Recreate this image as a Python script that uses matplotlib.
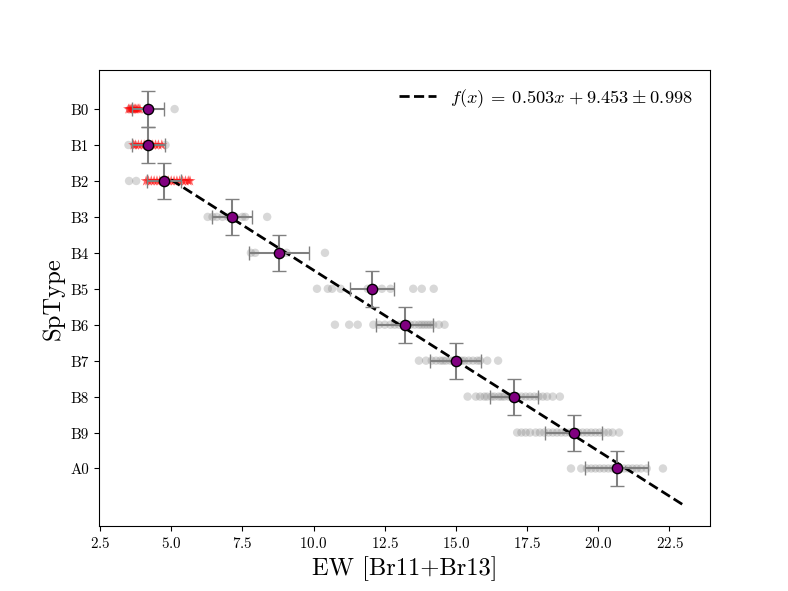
import numpy as np
import matplotlib
matplotlib.use("Agg")
import matplotlib.pyplot as plt

plt.rcParams['font.family'] = 'serif'
plt.rcParams['font.serif'] = ['cmr10', 'DejaVu Serif']
plt.rcParams['mathtext.fontset'] = 'cm'
plt.rcParams['axes.unicode_minus'] = False
plt.rcParams['axes.formatter.use_mathtext'] = True

# spectral types (numeric code 10 = B0 ... 20 = A0)
sptypes = ['B0', 'B1', 'B2', 'B3', 'B4', 'B5', 'B6', 'B7', 'B8', 'B9', 'A0']
sp_codes = [10, 11, 12, 13, 14, 15, 16, 17, 18, 19, 20]

# individual measurements (grey)
ew_grey = {
    'B0': [3.55, 3.7, 5.12],
    'B1': [3.5, 3.7, 4.8],
    'B2': [3.52, 3.77],
    'B3': [6.28, 6.45, 6.6, 6.8, 7.0, 7.25, 7.5, 7.6, 8.37],
    'B4': [7.8, 7.95, 8.9, 9.05, 10.4],
    'B5': [10.12, 10.5, 10.65, 10.95, 11.9, 12.4, 12.7, 13.5, 13.8, 14.22],
    'B6': [10.75, 11.25, 11.55, 12.1, 12.3, 12.5, 12.7, 12.85, 13.0, 13.2,
           13.4, 13.55, 13.7, 13.8, 13.9, 14.0, 14.1, 14.2, 14.4, 14.6],
    'B7': [13.7, 13.95, 14.15, 14.3, 14.45, 14.55, 14.65, 14.8, 14.9, 15.0,
           15.1, 15.2, 15.3, 15.45, 15.6, 15.75, 15.85, 16.1, 16.48],
    'B8': [15.41, 15.7, 15.85, 16.0, 16.1, 16.25, 16.35, 16.5, 16.6, 16.7,
           16.85, 16.95, 17.05, 17.15, 17.3, 17.45, 17.6, 17.75, 17.9, 18.05,
           18.2, 18.4, 18.65],
    'B9': [17.15, 17.3, 17.45, 17.6, 17.8, 17.95, 18.1, 18.25, 18.4, 18.55,
           18.7, 18.85, 19.0, 19.1, 19.2, 19.3, 19.45, 19.6, 19.75, 19.9,
           20.05, 20.2, 20.35, 20.5, 20.73],
    'A0': [19.04, 19.4, 19.6, 19.75, 19.9, 20.05, 20.2, 20.35, 20.5, 20.6,
           20.75, 20.9, 21.05, 21.2, 21.35, 21.5, 21.7, 22.27],
}

# red measurements (early B types)
ew_red = {
    'B0': [3.5, 3.55, 3.6, 3.65, 3.7, 3.75, 3.8, 3.85, 3.9],
    'B1': [3.68, 3.75, 3.85, 3.95, 4.05, 4.15, 4.25, 4.35, 4.45, 4.55, 4.67],
    'B2': [4.12, 4.2, 4.3, 4.4, 4.5, 4.6, 4.7, 4.8, 4.9, 5.0, 5.1, 5.2,
           5.3, 5.4, 5.5, 5.6, 5.66],
}

# mean EW per type and its scatter
ew_mean = [4.18, 4.2, 4.74, 7.14, 8.78, 12.05, 13.2, 14.99, 17.03, 19.14, 20.65]
ew_err = [0.56, 0.57, 0.6, 0.71, 1.05, 0.76, 1.0, 0.9, 0.85, 1.0, 1.1]
sp_err = 0.5

# linear fit
slope, intercept, fit_err = 0.503, 9.453, 0.998
fit_x = [5.0, 23.0]

fig, ax = plt.subplots(figsize=(8, 6), dpi=98.6)

for sp, code in zip(sptypes, sp_codes):
    xs = ew_grey[sp]
    ax.scatter(xs, [code] * len(xs), color='grey', alpha=0.3, s=38,
               edgecolors='none', zorder=1)
    if sp in ew_red:
        xr = ew_red[sp]
        ax.scatter(xr, [code] * len(xr), color='red', marker='*', alpha=0.6,
                   s=70, edgecolors='none', zorder=2)

ax.errorbar(ew_mean, sp_codes, xerr=ew_err, yerr=sp_err, fmt='o',
            color='purple', markeredgecolor='black', markersize=7.5,
            ecolor='grey', capsize=5, elinewidth=1.5, zorder=4)

fx = np.array(fit_x)
ax.plot(fx, slope * fx + intercept, 'k--', lw=2, zorder=3,
        label=r'$f(x)\:=\:%.3fx\:+\:%.3f\:\pm\:%.3f$' % (slope, intercept, fit_err))

ax.set_xlim(2.45, 23.92)
ax.set_yticks(sp_codes)
ax.set_yticklabels(sptypes)
ax.invert_yaxis()
ax.tick_params(labelsize=11)
ax.set_xlabel('EW [Br11+Br13]', fontsize=18)
ax.set_ylabel('SpType', fontsize=18)
ax.legend(frameon=False, fontsize=13.5, loc='upper right')

fig.savefig('out.png', dpi=98.6)
